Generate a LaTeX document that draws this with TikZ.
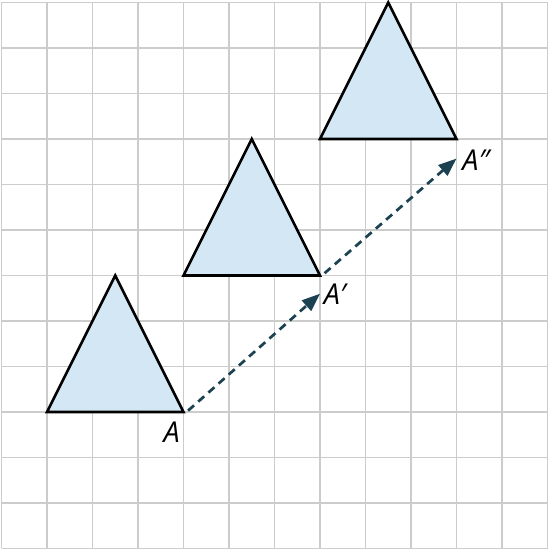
\documentclass[tikz,border=0pt]{standalone}
\usepackage{fontspec}
\setmainfont{Open Sans}
\usetikzlibrary{arrows.meta}
\definecolor{gridgray}{HTML}{CCCCCC}
\definecolor{trifill}{HTML}{D3E8F4}
\definecolor{arrowcol}{HTML}{1C4150}
\tikzset{
  gridline/.style={gridgray, line width=0.8pt},
  tri/.style={draw=black, fill=trifill, line width=1.6pt, line join=miter},
  transl/.style={arrowcol, line width=1.7pt, dash pattern=on 5pt off 3.5pt, -{Triangle[length=4mm, width=3mm]}},
  ptlabel/.style={font=\itshape\fontsize{18}{20}\selectfont, inner sep=0pt}
}
\begin{document}
\begin{tikzpicture}[x=1cm,y=1cm]
\useasboundingbox (-0.033,-0.033) rectangle (12.033,12.055);
\draw[gridline] (0,0) grid (12,12);
% triangles
\filldraw[tri] (1,3) -- (4,3) -- (2.5,6) -- cycle;
\filldraw[tri] (4,6) -- (7,6) -- (5.5,9) -- cycle;
\filldraw[tri] (7,9) -- (10,9) -- (8.5,12) -- cycle;
% points
\coordinate (A) at (4,3);
\coordinate (A1) at (7,6);
\coordinate (A2) at (10,9);
\coordinate (s1) at (4.1,3.03);
\coordinate (e1) at (7,5.6);
\coordinate (s2) at (7.1,6.05);
\coordinate (e2) at (10,8.57);
\draw[transl] (s1) -- (e1);
\draw[transl] (s2) -- (e2);
\node[ptlabel] (lA) at (3.74,2.55) {A};
\node[ptlabel] (lA1) at (7.33,5.58) {A′};
\node[ptlabel] (lA2) at (10.43,8.54) {A″};
\end{tikzpicture}
\end{document}
